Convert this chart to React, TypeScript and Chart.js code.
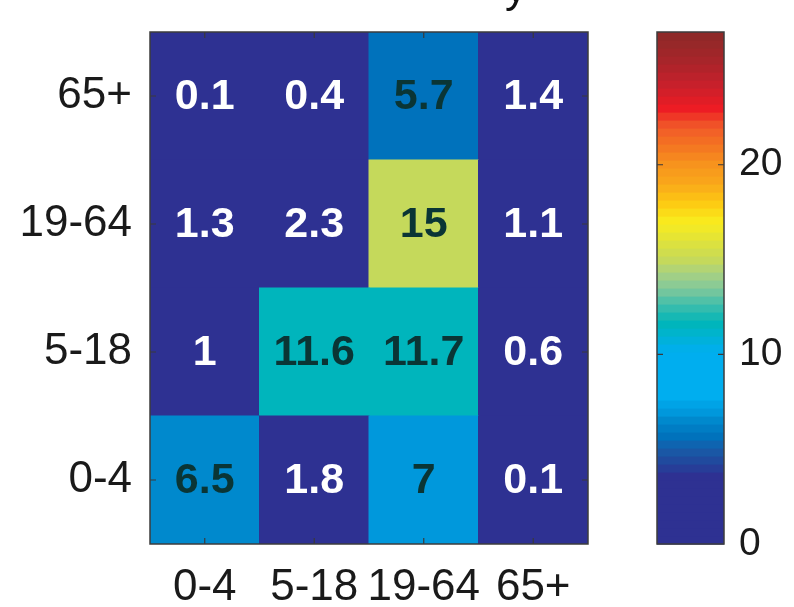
import React, { useEffect, useRef } from 'react';
import { Chart, registerables } from 'chart.js';

Chart.register(...registerables);

// Age groups: columns (contacted person) and rows (respondent), rows listed bottom to top
const contactAges = ['0-4', '5-18', '19-64', '65+'];
const rowAges = ['0-4', '5-18', '19-64', '65+'];

// Mean contacts per cell, one array per row (bottom to top)
const row0to4 = [6.5, 1.8, 7, 0.1];
const row5to18 = [1, 11.6, 11.7, 0.6];
const row19to64 = [1.3, 2.3, 15, 1.1];
const row65plus = [0.1, 0.4, 5.7, 1.4];

// Colour scale range and its tick labels
const colorMin = 0;
const colorMax = 27;
const colorTicks = [0, 10, 20];

const FONT = 'Liberation Sans, Arial, Helvetica, sans-serif';
const LEVELS = 64;

// Jet-like colormap stops: [value, colour]
const STOPS: [number, string][] = [
  [0, '#2e3192'],
  [3.6, '#2e3192'],
  [4.3, '#22469c'],
  [5.0, '#185ba8'],
  [5.7, '#0072bc'],
  [6.5, '#0088cc'],
  [7.0, '#0099dd'],
  [7.8, '#00aeef'],
  [10.2, '#00aeef'],
  [11.0, '#00b3d2'],
  [11.7, '#00b5b8'],
  [12.6, '#3dbdac'],
  [13.5, '#82c99a'],
  [14.3, '#a8d182'],
  [15.0, '#c6d95a'],
  [16.0, '#e0e33a'],
  [17.0, '#f9ec1e'],
  [18.0, '#fdca12'],
  [19.0, '#f9a81b'],
  [20.0, '#f7941d'],
  [21.0, '#f47521'],
  [22.0, '#f15a29'],
  [23.0, '#ed1c24'],
  [24.2, '#c8202b'],
  [25.5, '#a7252a'],
  [27, '#8b2a28'],
];

function hexRgb(h: string): number[] {
  const n = parseInt(h.slice(1), 16);
  return [(n >> 16) & 255, (n >> 8) & 255, n & 255];
}

function colormap(v: number): string {
  if (v <= STOPS[0][0]) return STOPS[0][1];
  for (let i = 1; i < STOPS.length; i++) {
    const [v1, c1] = STOPS[i];
    if (v <= v1) {
      const [v0, c0] = STOPS[i - 1];
      const t = (v - v0) / (v1 - v0);
      const a = hexRgb(c0);
      const b = hexRgb(c1);
      const m = a.map((x, k) => Math.round(x + (b[k] - x) * t));
      return `rgb(${m[0]},${m[1]},${m[2]})`;
    }
  }
  return STOPS[STOPS.length - 1][1];
}

// Quantised lookup, as with a 64-level colormap
function levelColor(v: number): string {
  const step = (colorMax - colorMin) / LEVELS;
  let i = Math.floor((v - colorMin) / step);
  i = Math.max(0, Math.min(LEVELS - 1, i));
  return colormap(colorMin + (i + 0.5) * step);
}

const rows = [row0to4, row5to18, row19to64, row65plus];

function drawInnerTicks(ctx: CanvasRenderingContext2D, a: any, xs: number[], ys: number[], len: number) {
  ctx.save();
  ctx.strokeStyle = '#3a3a3a';
  ctx.lineWidth = 1.2;
  ctx.beginPath();
  xs.forEach((x) => {
    ctx.moveTo(x, a.bottom);
    ctx.lineTo(x, a.bottom - len);
    ctx.moveTo(x, a.top);
    ctx.lineTo(x, a.top + len);
  });
  ys.forEach((y) => {
    ctx.moveTo(a.left, y);
    ctx.lineTo(a.left + len, y);
    ctx.moveTo(a.right, y);
    ctx.lineTo(a.right - len, y);
  });
  ctx.stroke();
  ctx.restore();
}

function drawFrame(ctx: CanvasRenderingContext2D, a: any) {
  ctx.save();
  ctx.strokeStyle = '#3c3c3c';
  ctx.lineWidth = 1.5;
  ctx.strokeRect(a.left, a.top, a.right - a.left, a.bottom - a.top);
  ctx.restore();
}

const heatmapPlugin = {
  id: 'heatmapDecor',
  afterDatasetsDraw(chart: any) {
    const { ctx, chartArea: a, scales } = chart;
    // Cell value labels
    ctx.save();
    ctx.font = `bold 43px ${FONT}`;
    ctx.textAlign = 'center';
    ctx.textBaseline = 'middle';
    chart.data.datasets.forEach((_: any, di: number) => {
      const meta = chart.getDatasetMeta(di);
      meta.data.forEach((el: any, ci: number) => {
        const v = rows[di][ci];
        ctx.fillStyle = v > 5 ? '#0a3535' : '#ffffff';
        ctx.fillText(String(v), el.x, (el.y + el.base) / 2 + 1);
      });
    });
    ctx.restore();

    const xs = contactAges.map((_, i) => scales.x.getPixelForValue(i));
    const ys = rowAges.map((_, i) => scales.y.getPixelForValue(i + 0.5));
    drawInnerTicks(ctx, a, xs, ys, 6);
    drawFrame(ctx, a);

    // Title text sits above the visible area; only its descender reaches in
    ctx.save();
    ctx.font = `44px ${FONT}`;
    ctx.fillStyle = '#111';
    ctx.textAlign = 'left';
    ctx.textBaseline = 'alphabetic';
    ctx.fillText('y', 505, 2);
    ctx.restore();
  },
};

const colorbarPlugin = {
  id: 'colorbarDecor',
  beforeDatasetsDraw(chart: any) {
    const { ctx, chartArea: a, scales } = chart;
    const y = scales.y;
    const step = (colorMax - colorMin) / LEVELS;
    ctx.save();
    for (let i = 0; i < LEVELS; i++) {
      const v0 = colorMin + i * step;
      const v1 = v0 + step;
      const p0 = y.getPixelForValue(v0);
      const p1 = y.getPixelForValue(v1);
      ctx.fillStyle = colormap((v0 + v1) / 2);
      ctx.fillRect(a.left, p1, a.right - a.left, p0 - p1 + 0.6);
    }
    ctx.restore();
    const ys = colorTicks.filter((v) => v > colorMin).map((v) => y.getPixelForValue(v));
    drawInnerTicks(ctx, a, [], ys, 6);
    drawFrame(ctx, a);
  },
};

export default function App() {
  const mainRef = useRef<HTMLCanvasElement>(null);
  const barRef = useRef<HTMLCanvasElement>(null);

  useEffect(() => {
    Chart.defaults.font.family = FONT;

    const heatmap = new Chart(mainRef.current!, {
      type: 'bar',
      data: {
        labels: contactAges,
        datasets: rows.map((vals, r) => ({
          label: rowAges[r],
          data: vals.map(() => [r, r + 1]),
          backgroundColor: vals.map(levelColor),
          borderWidth: 0,
          grouped: false,
          barPercentage: 1,
          categoryPercentage: 1,
          inflateAmount: 0.5,
        })) as any,
      },
      options: {
        animation: false,
        responsive: false,
        devicePixelRatio: 1,
        events: [],
        layout: { padding: { left: 0, top: 32, right: 52, bottom: 0 } },
        plugins: { legend: { display: false }, tooltip: { enabled: false }, title: { display: false } },
        scales: {
          x: {
            type: 'category',
            offset: true,
            afterFit: (s: any) => {
              s.height = 63;
              s.paddingLeft = 0;
              s.paddingRight = 0;
            },
            ticks: { font: { size: 44, family: FONT }, color: '#1a1a1a', padding: 17, maxRotation: 0, autoSkip: false },
            grid: { display: false, drawTicks: false },
            border: { display: false },
          },
          y: {
            type: 'linear',
            min: 0,
            max: 4,
            afterBuildTicks: (s: any) => {
              s.ticks = rowAges.map((_, i) => ({ value: i + 0.5 }));
            },
            afterFit: (s: any) => {
              s.width = 150;
              s.paddingTop = 0;
              s.paddingBottom = 0;
            },
            ticks: {
              font: { size: 44, family: FONT },
              color: '#1a1a1a',
              padding: 18,
              autoSkip: false,
              callback: (v: any) => rowAges[Math.floor(Number(v))],
            },
            grid: { display: false, drawTicks: false },
            border: { display: false },
          },
        },
      } as any,
      plugins: [heatmapPlugin],
    });

    const colorbar = new Chart(barRef.current!, {
      type: 'bar',
      data: { labels: [''], datasets: [] },
      options: {
        animation: false,
        responsive: false,
        devicePixelRatio: 1,
        events: [],
        layout: { padding: { left: 17, top: 32, right: 0, bottom: 63 } },
        plugins: { legend: { display: false }, tooltip: { enabled: false } },
        scales: {
          x: { display: false },
          y: {
            type: 'linear',
            position: 'right',
            min: colorMin,
            max: colorMax,
            afterBuildTicks: (s: any) => {
              s.ticks = colorTicks.map((v) => ({ value: v }));
            },
            afterFit: (s: any) => {
              s.width = 70;
              s.paddingTop = 0;
              s.paddingBottom = 0;
            },
            ticks: { font: { size: 39, family: FONT }, color: '#1a1a1a', padding: 15, autoSkip: false },
            grid: { display: false, drawTicks: false },
            border: { display: false },
          },
        },
      } as any,
      plugins: [colorbarPlugin],
    });

    return () => {
      heatmap.destroy();
      colorbar.destroy();
    };
  }, []);

  return (
    <div style={{ position: 'absolute', left: 0, top: 0, width: 794, height: 607, background: '#fff', overflow: 'hidden' }}>
      <canvas ref={mainRef} width={640} height={607} style={{ position: 'absolute', left: 0, top: 0 }} />
      <canvas ref={barRef} width={154} height={607} style={{ position: 'absolute', left: 640, top: 0 }} />
    </div>
  );
}
